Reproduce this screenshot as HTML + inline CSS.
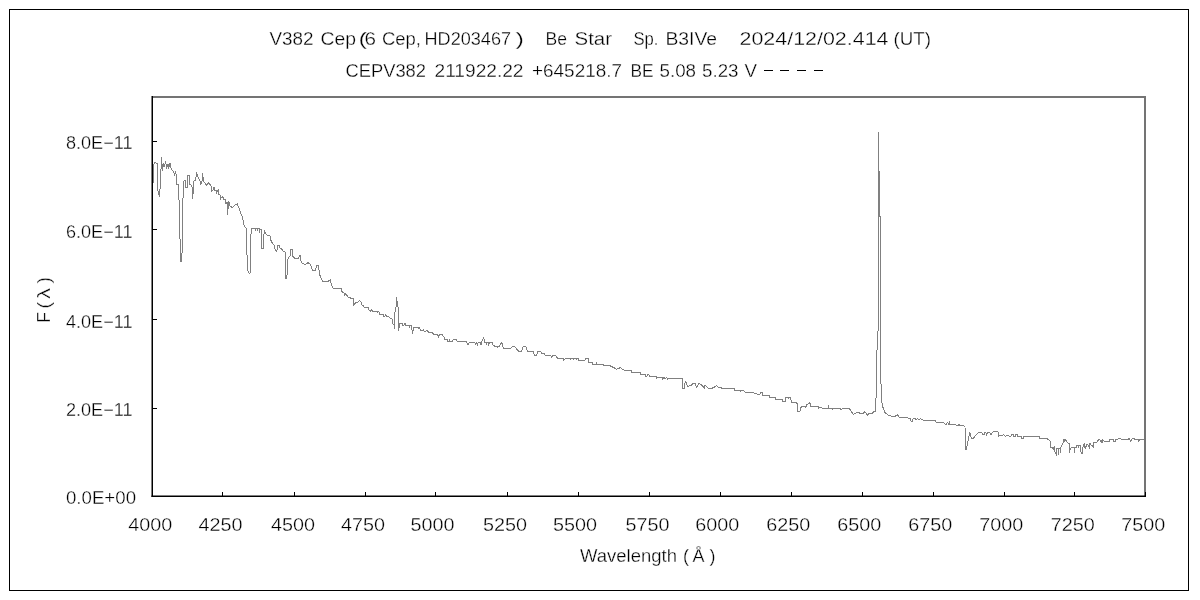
<!DOCTYPE html>
<html><head><meta charset="utf-8"><style>
html,body{margin:0;padding:0;background:#fff;width:1200px;height:600px;overflow:hidden}
svg{display:block;will-change:transform}
text{font-family:"Liberation Sans",sans-serif;font-size:18px;fill:#000;stroke:#fff;stroke-width:0.3px}
</style></head><body>
<svg width="1200" height="600" viewBox="0 0 1200 600">
<rect x="0" y="0" width="1200" height="600" fill="#fff"/>
<rect x="9.5" y="9.5" width="1179" height="581" fill="none" stroke="#000" stroke-width="1"/>
<g stroke="#808080" stroke-width="1" fill="none">
<line x1="152" y1="97" x2="1146" y2="97" stroke="#747474" stroke-width="2"/>
<line x1="1145" y1="96" x2="1145" y2="496" stroke="#747474" stroke-width="2"/>
</g>
<path d="M152.0,157.3 L152.0,182.0 L153.3,182.0 L153.3,166.0 L154.7,162.7 L157.3,163.3 L157.6,188.7 L159.3,196.7 L160.7,181.3 L161.3,157.3 L162.7,171.3 L163.3,162.7 L164.7,166.7 L165.3,161.3 L166.7,167.3 L168.0,164.0 L168.7,168.7 L170.0,162.7 L171.3,169.3 L173.3,171.3 L174.7,175.0 L175.5,172.5 L176.7,176.0 L176.7,184.0 L178.7,184.0 L179.3,215.0 L180.5,255.0 L181.0,261.7 L182.3,250.0 L182.7,215.0 L183.3,183.3 L184.0,180.7 L185.3,180.7 L185.3,187.3 L187.3,187.3 L187.3,175.3 L189.3,175.3 L189.3,184.7 L190.7,184.0 L192.7,188.0 L192.7,198.7 L194.0,180.7 L195.3,180.7 L196.7,173.3 L198.0,177.0 L200.0,181.3 L200.7,185.3 L202.0,181.3 L202.7,173.3 L203.3,180.7 L204.0,182.0 L206.7,185.3 L208.7,182.7 L210.7,185.3 L211.7,186.7 L211.8,190.8 L213.3,189.5 L213.4,187.5 L214.5,187.5 L214.6,190.5 L216.7,190.5 L216.8,192.7 L218.3,190.0 L218.4,194.0 L219.3,194.0 L220.8,195.8 L220.9,198.3 L222.0,196.7 L223.3,197.5 L223.4,199.5 L225.0,199.5 L225.8,200.0 L225.9,203.3 L227.3,202.5 L227.4,215.3 L228.7,201.3 L230.0,206.0 L232.0,207.3 L233.3,206.7 L235.3,204.7 L237.3,204.0 L238.7,207.3 L240.0,211.3 L242.7,218.0 L244.0,225.3 L246.0,228.0 L246.7,250.0 L248.0,270.7 L248.7,273.0 L250.0,274.0 L250.4,245.3 L251.3,228.7 L255.0,228.7 L255.1,231.3 L255.3,228.7 L257.3,228.7 L257.4,230.5 L257.6,228.7 L259.3,228.7 L259.4,233.0 L259.6,229.5 L261.3,229.5 L261.4,248.0 L263.3,248.7 L263.4,236.0 L264.7,231.3 L265.3,233.3 L268.0,236.0 L270.0,235.3 L270.1,238.7 L272.7,244.0 L274.0,245.3 L275.3,250.0 L276.7,251.3 L278.0,245.3 L279.3,245.3 L280.0,248.0 L282.7,250.0 L283.0,251.3 L285.3,252.0 L286.0,279.3 L287.3,274.0 L288.0,258.7 L290.0,256.0 L290.7,249.3 L292.3,249.3 L292.7,256.0 L294.7,258.0 L298.7,258.0 L300.0,254.7 L301.3,262.7 L305.3,264.7 L308.0,262.7 L310.7,264.7 L312.7,270.7 L315.3,270.7 L316.7,265.3 L318.7,265.3 L319.3,274.0 L322.7,281.3 L328.0,281.3 L330.7,279.3 L331.0,282.7 L331.3,284.7 L333.0,288.3 L341.3,288.3 L342.0,291.7 L344.0,293.0 L344.3,295.7 L345.3,293.7 L346.7,295.0 L348.3,297.3 L350.0,297.0 L350.1,298.0 L353.3,298.3 L353.4,305.3 L354.7,304.3 L355.3,302.7 L357.7,302.0 L359.3,300.7 L361.0,302.0 L361.1,304.3 L362.7,305.3 L364.3,307.3 L368.3,307.3 L368.4,309.3 L370.3,311.3 L372.0,309.3 L372.1,311.3 L375.3,312.0 L377.3,311.3 L377.4,312.5 L379.0,311.3 L379.1,314.0 L379.5,314.0 L383.0,314.0 L383.5,316.5 L385.0,316.5 L385.1,314.5 L386.0,314.5 L386.1,316.5 L388.0,316.5 L390.0,318.0 L392.0,319.0 L392.5,323.5 L394.0,325.0 L394.0,328.5 L394.5,316.0 L395.5,309.0 L396.0,307.0 L396.5,297.0 L397.0,301.0 L397.5,306.5 L398.2,307.0 L398.5,330.5 L399.0,323.0 L399.5,328.0 L400.0,323.0 L402.0,323.0 L402.1,325.0 L404.0,325.0 L404.1,323.0 L405.0,323.0 L405.5,325.0 L409.5,325.0 L409.6,327.5 L409.8,325.0 L411.5,325.0 L412.0,330.0 L412.5,332.0 L414.0,327.5 L418.0,327.5 L418.1,329.0 L419.0,327.5 L420.0,328.5 L420.1,330.5 L423.0,330.5 L423.1,329.0 L423.3,330.5 L425.0,332.0 L427.0,330.5 L429.0,332.5 L432.0,332.5 L433.5,334.0 L437.5,334.0 L438.5,337.0 L440.0,334.5 L442.0,334.5 L444.0,337.0 L444.1,339.0 L447.0,339.0 L447.5,341.5 L449.0,341.5 L449.1,339.0 L450.0,341.5 L452.0,341.5 L453.5,339.0 L455.5,339.0 L457.5,341.5 L466.0,341.5 L468.0,344.5 L470.0,342.0 L475.0,342.5 L475.4,344.6 L476.7,342.5 L477.5,344.6 L478.3,342.5 L480.0,342.5 L480.4,344.6 L481.2,344.6 L481.7,341.2 L482.9,339.6 L483.3,337.5 L484.2,339.6 L484.5,342.5 L486.2,342.5 L486.3,344.6 L487.0,342.5 L488.8,342.5 L488.8,344.6 L490.0,342.5 L492.5,342.5 L492.6,344.6 L494.6,346.2 L497.5,346.2 L497.6,348.3 L497.8,346.2 L499.6,346.2 L501.2,342.5 L502.5,344.0 L503.3,348.3 L510.8,348.3 L512.5,346.2 L514.6,346.2 L516.2,348.5 L518.8,351.2 L521.7,351.2 L523.3,346.2 L525.8,346.2 L527.5,351.2 L533.3,351.2 L534.2,355.0 L536.7,355.0 L537.5,351.7 L540.8,351.7 L541.7,353.3 L544.2,353.3 L545.0,355.3 L550.8,355.3 L551.7,357.0 L553.3,355.3 L555.8,356.0 L557.5,358.0 L563.3,358.0 L563.4,360.3 L565.8,358.0 L570.0,358.0 L570.1,360.3 L570.3,358.0 L573.0,358.0 L573.1,360.0 L573.3,358.0 L576.0,358.0 L576.1,360.0 L576.3,358.0 L578.3,358.0 L578.3,360.3 L585.0,360.3 L585.8,358.7 L588.3,358.7 L588.3,362.0 L592.5,362.0 L592.5,364.2 L596.7,364.2 L596.8,362.5 L597.0,364.2 L603.3,364.2 L603.3,365.3 L610.0,365.3 L610.1,366.7 L612.5,367.0 L616.7,369.2 L620.8,367.5 L622.0,369.2 L625.0,370.3 L631.7,370.3 L631.7,372.0 L640.0,372.0 L640.0,374.2 L645.0,374.2 L645.0,376.3 L647.0,376.3 L647.1,374.7 L649.0,374.7 L649.1,376.3 L651.7,376.3 L656.7,376.3 L656.7,378.0 L658.3,377.3 L662.5,377.3 L662.6,379.0 L664.0,377.5 L665.0,379.0 L666.5,377.5 L667.5,379.0 L669.2,378.3 L677.5,378.3 L677.6,379.2 L677.8,378.3 L682.0,378.3 L682.0,388.0 L684.2,388.0 L684.2,385.0 L685.8,381.7 L687.5,386.7 L690.0,385.3 L691.7,385.3 L692.5,383.3 L695.0,383.3 L696.7,387.5 L699.2,383.3 L701.7,385.0 L704.2,388.0 L705.0,385.3 L708.3,388.0 L712.5,388.0 L716.7,385.8 L718.3,387.5 L723.3,388.3 L725.3,388.3 L734.0,388.3 L734.7,390.0 L740.0,390.0 L740.1,392.0 L740.3,390.0 L743.3,390.0 L745.3,392.3 L753.3,392.3 L754.7,393.3 L756.7,394.0 L760.0,394.0 L760.7,392.3 L762.7,392.3 L762.8,395.0 L769.3,395.0 L769.4,397.3 L775.3,397.3 L775.4,399.3 L782.0,399.3 L782.1,401.3 L785.3,401.3 L785.4,399.3 L786.0,397.3 L788.0,397.3 L788.1,399.0 L788.5,397.3 L790.7,397.3 L791.3,402.0 L796.0,402.0 L796.1,403.3 L797.3,403.3 L797.3,411.3 L800.0,411.3 L800.1,408.0 L802.0,406.7 L805.0,406.7 L805.1,408.0 L805.5,406.7 L806.7,406.7 L806.8,404.7 L810.0,402.7 L810.7,406.4 L818.0,406.4 L818.1,408.3 L820.0,407.3 L823.3,408.3 L828.0,408.3 L828.1,404.7 L828.3,408.3 L832.0,408.3 L832.1,409.3 L834.7,408.3 L840.0,408.3 L840.1,409.3 L848.0,408.3 L850.0,409.3 L853.3,414.7 L854.7,413.3 L858.7,412.0 L860.0,413.3 L863.3,413.3 L864.6,411.7 L867.5,415.0 L869.2,413.3 L872.5,413.3 L873.8,411.7 L875.4,411.2 L875.8,403.3 L876.7,380.0 L877.0,350.0 L878.5,322.0 L878.5,131.7 L878.5,171.0 L879.5,171.0 L879.5,216.0 L880.5,216.0 L880.5,367.5 L881.5,400.0 L882.5,406.2 L885.0,412.5 L888.3,415.0 L893.8,417.0 L897.5,415.0 L899.2,417.0 L904.0,417.5 L910.0,418.3 L910.8,420.4 L912.0,422.0 L913.3,418.3 L915.0,418.3 L916.0,419.8 L917.5,418.3 L919.0,419.8 L920.5,418.3 L922.0,419.8 L925.8,420.4 L935.0,420.4 L936.2,422.0 L940.0,422.5 L943.8,422.5 L945.0,424.2 L946.5,424.2 L947.5,422.5 L948.5,424.0 L949.2,422.5 L949.5,424.6 L955.8,424.6 L956.7,425.4 L958.0,425.4 L959.2,424.0 L960.0,425.4 L963.3,425.4 L965.0,427.1 L965.4,449.2 L966.7,449.2 L967.5,441.7 L968.8,440.0 L969.2,432.5 L970.4,433.3 L971.2,438.3 L973.3,438.3 L978.3,432.5 L981.7,432.5 L982.5,434.6 L984.2,434.6 L984.2,432.5 L986.0,432.5 L986.2,436.2 L987.5,433.0 L989.6,432.5 L991.2,434.6 L993.3,431.2 L997.5,431.2 L998.3,432.5 L998.4,436.7 L1000.0,435.0 L1002.0,436.0 L1003.3,434.6 L1005.0,436.2 L1008.3,435.4 L1010.4,436.7 L1011.7,434.6 L1013.3,434.6 L1013.5,436.7 L1015.0,436.7 L1015.8,434.6 L1017.5,434.6 L1017.9,436.5 L1021.2,436.5 L1021.2,438.8 L1023.3,438.8 L1023.3,436.5 L1039.2,436.5 L1039.6,438.3 L1047.5,438.3 L1048.0,439.5 L1050.0,440.4 L1050.4,447.0 L1052.5,447.5 L1053.3,449.0 L1054.6,446.5 L1054.8,451.7 L1055.4,452.5 L1056.2,454.0 L1056.7,448.3 L1058.3,448.3 L1058.4,454.6 L1058.6,448.3 L1060.4,448.3 L1060.5,452.5 L1061.2,445.4 L1062.0,445.0 L1063.3,442.0 L1063.4,439.6 L1064.2,441.7 L1065.0,439.6 L1066.7,440.8 L1067.5,442.9 L1069.2,443.3 L1069.6,452.5 L1070.4,448.3 L1071.7,447.5 L1074.2,447.5 L1074.3,452.5 L1074.5,447.0 L1076.7,447.0 L1076.7,445.4 L1078.3,445.4 L1078.4,448.3 L1078.6,445.4 L1080.8,445.4 L1080.9,451.7 L1082.0,454.2 L1083.0,447.0 L1084.2,443.5 L1084.3,447.5 L1085.4,448.3 L1086.7,444.6 L1088.0,445.0 L1089.6,448.3 L1090.0,443.3 L1091.2,445.0 L1092.5,445.0 L1093.3,447.5 L1093.8,442.9 L1097.5,442.0 L1098.3,439.6 L1100.0,439.6 L1100.8,441.7 L1101.5,441.0 L1102.0,443.3 L1102.2,439.6 L1104.2,441.2 L1109.2,441.2 L1109.6,439.6 L1113.3,439.6 L1113.4,441.7 L1115.4,441.7 L1115.8,439.6 L1120.0,438.3 L1121.7,439.2 L1128.3,439.2 L1129.6,438.3 L1130.4,441.0 L1131.7,439.6 L1132.5,438.3 L1135.0,439.2 L1138.3,439.6 L1138.4,441.0 L1140.0,439.6 L1144.0,439.6" fill="none" stroke="#808080" stroke-width="1" shape-rendering="crispEdges"/>
<g stroke="#000" stroke-width="1" fill="none">
<line x1="152.25" y1="96" x2="152.25" y2="497" stroke-width="1.5"/>
<line x1="151.5" y1="496.25" x2="1146" y2="496.25" stroke-width="1.5"/>
<line x1="152.5" y1="141.5" x2="157" y2="141.5"/><line x1="152.5" y1="229.5" x2="157" y2="229.5"/><line x1="152.5" y1="319.5" x2="157" y2="319.5"/><line x1="152.5" y1="408.5" x2="157" y2="408.5"/><line x1="222.5" y1="492" x2="222.5" y2="496"/><line x1="294.5" y1="492" x2="294.5" y2="496"/><line x1="365.5" y1="492" x2="365.5" y2="496"/><line x1="435.5" y1="492" x2="435.5" y2="496"/><line x1="507.5" y1="492" x2="507.5" y2="496"/><line x1="578.5" y1="492" x2="578.5" y2="496"/><line x1="649.5" y1="492" x2="649.5" y2="496"/><line x1="720.5" y1="492" x2="720.5" y2="496"/><line x1="791.5" y1="492" x2="791.5" y2="496"/><line x1="862.5" y1="492" x2="862.5" y2="496"/><line x1="933.5" y1="492" x2="933.5" y2="496"/><line x1="1004.5" y1="492" x2="1004.5" y2="496"/><line x1="1074.5" y1="492" x2="1074.5" y2="496"/><line x1="1145.5" y1="492" x2="1145.5" y2="496"/><line x1="764" y1="70.5" x2="773" y2="70.5"/><line x1="780" y1="70.5" x2="789" y2="70.5"/><line x1="797" y1="70.5" x2="806" y2="70.5"/><line x1="814" y1="70.5" x2="823" y2="70.5"/>
</g>
<text x="66" y="149.0" textLength="66.5" lengthAdjust="spacingAndGlyphs">8.0E−11</text><text x="66" y="238.0" textLength="66.5" lengthAdjust="spacingAndGlyphs">6.0E−11</text><text x="66" y="327.5" textLength="66.5" lengthAdjust="spacingAndGlyphs">4.0E−11</text><text x="66" y="416.2" textLength="66.5" lengthAdjust="spacingAndGlyphs">2.0E−11</text><text x="66" y="503.8" textLength="70" lengthAdjust="spacingAndGlyphs">0.0E+00</text><text x="128.3" y="531" textLength="44" lengthAdjust="spacingAndGlyphs">4000</text><text x="198.5" y="531" textLength="44" lengthAdjust="spacingAndGlyphs">4250</text><text x="271.0" y="531" textLength="44" lengthAdjust="spacingAndGlyphs">4500</text><text x="341.0" y="531" textLength="44" lengthAdjust="spacingAndGlyphs">4750</text><text x="410.5" y="531" textLength="44" lengthAdjust="spacingAndGlyphs">5000</text><text x="483.0" y="531" textLength="44" lengthAdjust="spacingAndGlyphs">5250</text><text x="553.0" y="531" textLength="44" lengthAdjust="spacingAndGlyphs">5500</text><text x="625.5" y="531" textLength="44" lengthAdjust="spacingAndGlyphs">5750</text><text x="695.3" y="531" textLength="44" lengthAdjust="spacingAndGlyphs">6000</text><text x="766.2" y="531" textLength="44" lengthAdjust="spacingAndGlyphs">6250</text><text x="837.3" y="531" textLength="44" lengthAdjust="spacingAndGlyphs">6500</text><text x="908.2" y="531" textLength="44" lengthAdjust="spacingAndGlyphs">6750</text><text x="979.3" y="531" textLength="44" lengthAdjust="spacingAndGlyphs">7000</text><text x="1050.8" y="531" textLength="44" lengthAdjust="spacingAndGlyphs">7250</text><text x="1121.2" y="531" textLength="44" lengthAdjust="spacingAndGlyphs">7500</text>
<text x="269.5" y="45" textLength="44.0" lengthAdjust="spacingAndGlyphs">V382</text><text x="320.5" y="45" textLength="35.5" lengthAdjust="spacingAndGlyphs">Cep</text><text x="358.5" y="45" textLength="8.5" lengthAdjust="spacingAndGlyphs">(</text><text x="364.5" y="45" textLength="11.5" lengthAdjust="spacingAndGlyphs">6</text><text x="382.0" y="45" textLength="39.0" lengthAdjust="spacingAndGlyphs">Cep,</text><text x="424.5" y="45" textLength="86.5" lengthAdjust="spacingAndGlyphs">HD203467</text><text x="515.5" y="45" textLength="8.5" lengthAdjust="spacingAndGlyphs">)</text><text x="545.5" y="45" textLength="21.5" lengthAdjust="spacingAndGlyphs">Be</text><text x="574.5" y="45" textLength="37.5" lengthAdjust="spacingAndGlyphs">Star</text><text x="633.5" y="45" textLength="25.0" lengthAdjust="spacingAndGlyphs">Sp.</text><text x="665.5" y="45" textLength="51.5" lengthAdjust="spacingAndGlyphs">B3IVe</text><text x="739.5" y="45" textLength="149.0" lengthAdjust="spacingAndGlyphs">2024/12/02.414</text><text x="893.5" y="45" textLength="37.5" lengthAdjust="spacingAndGlyphs">(UT)</text><text x="345.5" y="77" textLength="80.5" lengthAdjust="spacingAndGlyphs">CEPV382</text><text x="434.5" y="77" textLength="89.0" lengthAdjust="spacingAndGlyphs">211922.22</text><text x="532.0" y="77" textLength="90.0" lengthAdjust="spacingAndGlyphs">+645218.7</text><text x="630.5" y="77" textLength="23.0" lengthAdjust="spacingAndGlyphs">BE</text><text x="659.5" y="77" textLength="36.5" lengthAdjust="spacingAndGlyphs">5.08</text><text x="702.0" y="77" textLength="36.5" lengthAdjust="spacingAndGlyphs">5.23</text><text x="744.5" y="77" textLength="12.5" lengthAdjust="spacingAndGlyphs">V</text>
<g transform="translate(50,0) rotate(-90)">
<text x="-323" y="0" textLength="11" lengthAdjust="spacingAndGlyphs">F</text>
<text x="-308.5" y="0" textLength="6.5" lengthAdjust="spacingAndGlyphs">(</text>
<text x="-299" y="0" textLength="11" lengthAdjust="spacingAndGlyphs">λ</text>
<text x="-283.5" y="0" textLength="6.5" lengthAdjust="spacingAndGlyphs">)</text>
</g>
<text x="580" y="562" textLength="97" lengthAdjust="spacingAndGlyphs">Wavelength</text>
<text x="683" y="562" textLength="6" lengthAdjust="spacingAndGlyphs">(</text>
<text x="692.5" y="562" textLength="12" lengthAdjust="spacingAndGlyphs">Å</text>
<text x="709.5" y="562" textLength="6" lengthAdjust="spacingAndGlyphs">)</text>
</svg>
</body></html>
